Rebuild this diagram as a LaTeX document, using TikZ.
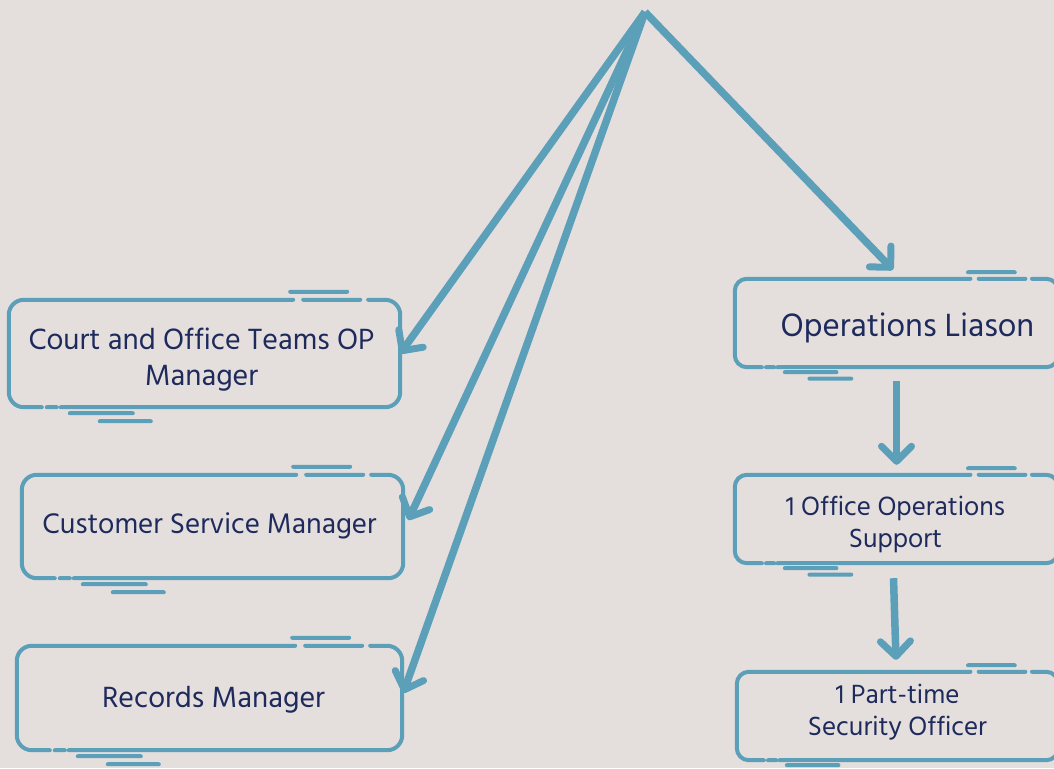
\documentclass[tikz,border=0pt]{standalone}
\usepackage{fontspec}
\setmainfont{Hind Madurai}
\usetikzlibrary{arrows.meta,calc}

\definecolor{bgc}{HTML}{E4DFDD}
\definecolor{linec}{HTML}{5B9FB9}
\definecolor{inkc}{HTML}{1E2A5C}

\tikzset{
  card/.style={inner sep=0pt},
  txt/.style={inner sep=0pt, align=center, text=inkc},
  big/.style={font={\fontsize{30}{36}\selectfont}},
  midsize/.style={font={\fontsize{29}{36}\selectfont}},
  large/.style={font={\fontsize{33}{38}\selectfont}},
  small/.style={font={\fontsize{27}{32}\selectfont}},
  frameline/.style={draw=linec, line width=4pt, line cap=round},
  link/.style={draw=linec, line width=7.5pt,
    -{Straight Barb[round,length=15pt,width=30pt,line width=7pt]}},
}

% Hand-drawn style frame around a card node: gapped top and bottom
% edges plus short accent strokes above and below.
% #1 node name, #2 scale of the accents, #3 corner radius
\newcommand\cardoutline[3]{%
  \draw[frameline, rounded corners=#3]
    let \p1=(#1.north west), \p2=(#1.south east) in
    (\x2-#2*32pt,\y1) -- (\x2,\y1) -- (\x2,\y2) -- (\x1+#2*52pt,\y2)
    (\x1+#2*48pt,\y2) -- (\x1+#2*38pt,\y2)
    (\x1+#2*33pt,\y2) -- (\x1,\y2) -- (\x1,\y1) -- (\x2-#2*107pt,\y1)
    (\x2-#2*97pt,\y1) -- (\x2-#2*40pt,\y1)
    (\x2-#2*110pt,\y1+#2*8pt) -- (\x2-#2*53pt,\y1+#2*8pt)
    (\x1+#2*61pt,\y2-#2*6pt) -- (\x1+#2*124pt,\y2-#2*6pt)
    (\x1+#2*91pt,\y2-#2*14pt) -- (\x1+#2*142pt,\y2-#2*14pt);
}

\begin{document}
\begin{tikzpicture}[x=1pt,y=-1pt]
  \fill[bgc] (0,0) rectangle (1054,768);
  \useasboundingbox (0,0) rectangle (1054,768);

  % card frames (geometry)
  \node[card, minimum width=391pt, minimum height=107pt] (court) at (204.5,353.5) {};
  \node[card, minimum width=381pt, minimum height=103pt] (cust) at (212.5,526.5) {};
  \node[card, minimum width=385pt, minimum height=104pt] (rec) at (209.5,698) {};
  \node[card, minimum width=323pt, minimum height=88pt] (liason) at (896.5,323) {};
  \node[card, minimum width=323pt, minimum height=88pt] (office) at (896.5,519) {};
  \node[card, minimum width=321pt, minimum height=88pt] (sec) at (897.5,716) {};

  \cardoutline{court}{1}{15pt}
  \cardoutline{cust}{1}{15pt}
  \cardoutline{rec}{1}{15pt}
  \cardoutline{liason}{0.82}{12pt}
  \cardoutline{office}{0.82}{12pt}
  \cardoutline{sec}{0.82}{12pt}

  % card texts
  \node[txt, big] (courttxt) at ($(court)+(-3,6)$) {Court and Office Teams OP\\Manager};
  \node[txt, midsize] (custtxt) at ($(cust)+(-3,-1)$) {Customer Service Manager};
  \node[txt, big] (rectxt) at ($(rec)+(4,2)$) {Records Manager};
  \node[txt, large] (liasontxt) at ($(liason)+(11,5)$) {Operations Liason};
  \node[txt, small] (officetxt) at ($(office)+(-1,5)$) {1 Office Operations\\Support};
  \node[txt, small] (sectxt) at ($(sec)+(0,-4)$) {1 Part-time\\Security Officer};

  % connectors
  \coordinate (apex) at (645,12);
  \draw[link] (apex) -- (court.east);
  \draw[link] (apex) -- ($(cust.east)+(5,-6.5)$);
  \draw[link] (apex) -- ($(rec.east)+(1,-5)$);
  \draw[link] (apex) -- ($(liason.north)+(-3.5,-9)$);
  \draw[link] ($(liason.south)+(0,14)$) -- ($(office.north)+(0,-10)$);
  \draw[link] ($(office.south)+(-3,15)$) -- ($(sec.north)+(-1.5,-12)$);
\end{tikzpicture}
\end{document}
